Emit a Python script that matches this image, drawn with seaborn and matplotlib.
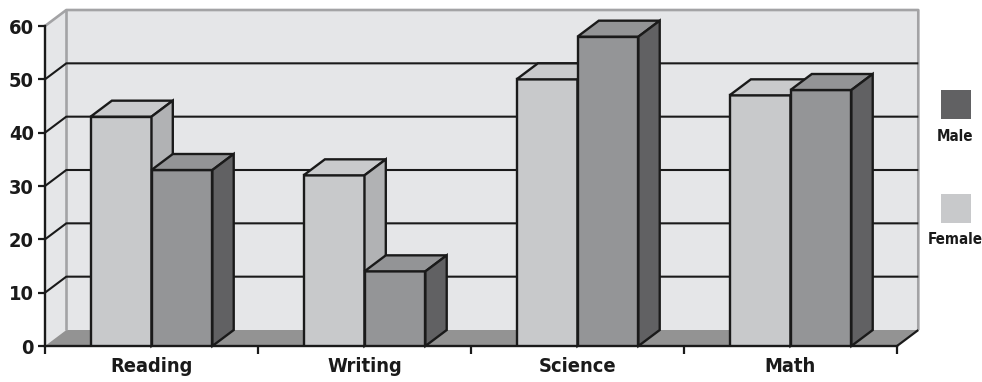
import matplotlib
matplotlib.use("Agg")
import matplotlib.pyplot as plt
from matplotlib import font_manager
from matplotlib.patches import Polygon, Rectangle
import pandas as pd
import seaborn as sns

# ---- data -------------------------------------------------------------
subjects = ["Reading", "Writing", "Science", "Math"]
female_scores = [43, 32, 50, 47]
male_scores = [33, 14, 58, 48]
y_ticks = [0, 10, 20, 30, 40, 50, 60]
legend_labels = ["Male", "Female"]

# ---- style ------------------------------------------------------------
sns.set_style("white")
fonts = font_manager.fontManager.ttflist
names = {f.name for f in fonts}
if "Liberation Sans Narrow" in names:
    family, stretch, scale = ["Liberation Sans Narrow", "DejaVu Sans"], "normal", 1.0
elif any(f.name == "DejaVu Sans" and f.stretch == "condensed" for f in fonts):
    family, stretch, scale = ["DejaVu Sans"], "condensed", 0.9
else:
    family, stretch, scale = ["Liberation Sans", "DejaVu Sans"], "normal", 0.9
plt.rcParams["font.family"] = family
plt.rcParams["font.stretch"] = stretch
plt.rcParams["font.weight"] = "bold"

FRONT = {"Female": "#c8c9cb", "Male": "#949597"}
TOP = {"Female": "#c9cacc", "Male": "#939496"}
SIDE = {"Female": "#b1b2b4", "Male": "#616163"}
WALL = "#e5e6e8"
FLOOR = "#939393"
RIM = "#a3a3a5"
INK = "#1a1a1a"
EDGE_LW = 1.7

df = pd.DataFrame({
    "subject": subjects * 2,
    "score": female_scores + male_scores,
    "sex": ["Female"] * len(subjects) + ["Male"] * len(subjects),
})

W, H = 982, 382
fig = plt.figure(figsize=(W / 100, H / 100), dpi=100)
fig.patch.set_facecolor("white")
x0, x1, y0, y1 = 45, 897, 346, 26
ax = fig.add_axes([x0 / W, (H - y0) / H, (x1 - x0) / W, (y0 - y1) / H])
ax.set_xlim(-0.5, len(subjects) - 0.5)
ax.set_ylim(0, 60)
ax.patch.set_visible(False)

# depth offset of the 3-D box (category units, value units)
DX, DY = 0.1, 3.0
xl, xr = -0.5, len(subjects) - 0.5

def poly(pts, fc, ec="none", lw=0, z=1.0):
    ax.add_patch(Polygon(pts, closed=True, facecolor=fc, edgecolor=ec,
                         linewidth=lw, zorder=z, clip_on=False, joinstyle="miter"))

def line(xs, ys, color=INK, lw=1.5, z=1.2):
    ax.plot(xs, ys, color=color, lw=lw, zorder=z, clip_on=False,
            solid_capstyle="butt")

# walls and floor
poly([(xl + DX, DY), (xr + DX, DY), (xr + DX, 60 + DY), (xl + DX, 60 + DY)], WALL, z=0.5)
poly([(xl, 0), (xl + DX, DY), (xl + DX, 60 + DY), (xl, 60)], WALL, z=0.5)
poly([(xl, 0), (xr, 0), (xr + DX, DY), (xl + DX, DY)], FLOOR, z=0.6)
line([xl, xl + DX, xr + DX, xr + DX], [60, 60 + DY, 60 + DY, DY], color=RIM, lw=1.9, z=0.8)
line([xl + DX, xl + DX], [DY, 60 + DY], color=RIM, lw=1.9, z=0.8)
line([xr, xr + DX], [0, DY], lw=1.6, z=1.2)

# gridlines on the back and left walls
for v in y_ticks[1:-1]:
    line([xl, xl + DX, xr + DX], [v, v + DY, v + DY])

# front faces of the columns
sns.barplot(data=df, x="subject", y="score", hue="sex", order=subjects,
            hue_order=["Female", "Male"], palette=FRONT, width=0.572,
            edgecolor=INK, linewidth=EDGE_LW, saturation=1, legend=False, ax=ax)

# tops and sides of the columns
for j, (sex, cont) in enumerate(zip(["Female", "Male"], ax.containers)):
    for bar in cont:
        bx, bw, bh = bar.get_x(), bar.get_width(), bar.get_height()
        z = 3 + j * 0.5
        bar.set_zorder(z)
        poly([(bx, bh), (bx + bw, bh), (bx + bw + DX, bh + DY), (bx + DX, bh + DY)],
             TOP[sex], INK, EDGE_LW, z + 0.1)
        poly([(bx + bw, 0), (bx + bw + DX, DY), (bx + bw + DX, bh + DY), (bx + bw, bh)],
             SIDE[sex], INK, EDGE_LW, z + 0.2)

# axes, ticks and labels
for s in ["top", "right"]:
    ax.spines[s].set_visible(False)
for s in ["left", "bottom"]:
    ax.spines[s].set_color(INK)
    ax.spines[s].set_linewidth(1.7)
    ax.spines[s].set_zorder(2.5)
ax.set_xlabel("")
ax.set_ylabel("")
ax.set_yticks(y_ticks)
ax.set_yticklabels([str(t) for t in y_ticks], fontsize=16 * scale, fontweight="bold",
                   color=INK)
ax.tick_params(axis="y", direction="out", length=5, width=1.6, color=INK,
               pad=3, left=True)
ax.set_xticks([i - 0.5 for i in range(len(subjects) + 1)])
ax.set_xticklabels([])
ax.set_xticks(range(len(subjects)), minor=True)
ax.set_xticklabels(subjects, minor=True, fontsize=16 * scale, fontweight="bold",
                   color=INK)
ax.tick_params(axis="x", which="major", direction="out", length=5.5, width=1.6,
               color=INK, bottom=True)
ax.tick_params(axis="x", which="minor", length=0, pad=8)

# legend
for lab, color, ytop in [("Male", SIDE["Male"], 90), ("Female", FRONT["Female"], 194)]:
    fig.add_artist(Rectangle((941 / W, (H - ytop - 29) / H), 30 / W, 29 / H,
                             facecolor=color, edgecolor="none", transform=fig.transFigure))
    fig.text(955 / W, (H - ytop - 46) / H, lab, ha="center", va="center",
             fontsize=12 * scale, fontweight="bold", color=INK)

fig.savefig("out.png", dpi=100, facecolor="white")
